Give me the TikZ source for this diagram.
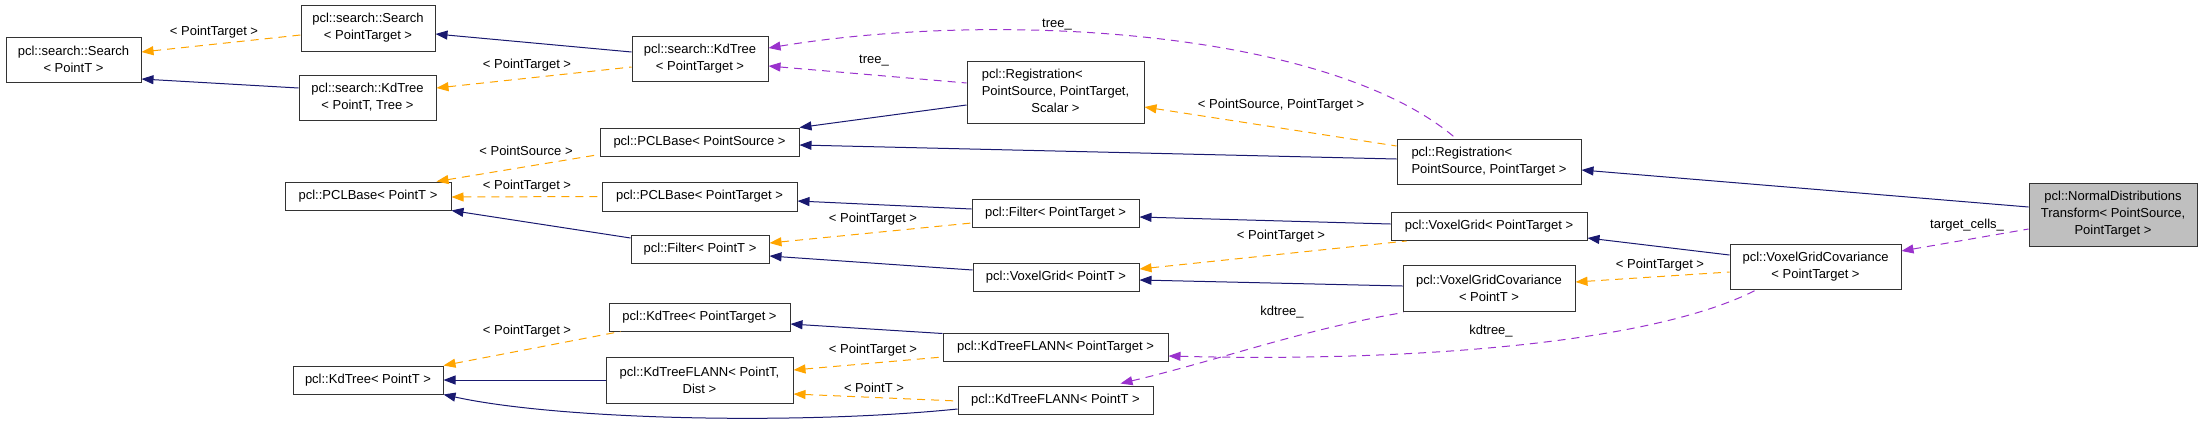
\documentclass[tikz,border=0pt]{standalone}
\usepackage{fontspec}
\setmainfont{Liberation Sans}
\usetikzlibrary{arrows.meta,calc}
\definecolor{inh}{RGB}{25,25,112}
\definecolor{tmpc}{RGB}{255,165,0}
\definecolor{usgc}{RGB}{154,50,205}
\definecolor{ndtfill}{RGB}{191,191,191}
\begin{document}
\begin{tikzpicture}[x=1pt,y=-1pt,
  box/.style={draw=black!80, line width=1pt, fill=white, inner sep=0pt, font=\fontsize{13}{17}\selectfont},
  lbl/.style={inner sep=0pt, font=\fontsize{13}{17}\selectfont},
  inhe/.style={draw=inh, line width=1pt, arrows={Triangle[length=12pt,width=9pt]-}},
  tmp/.style={draw=tmpc, line width=1pt, dash pattern=on 8pt off 6pt, arrows={Triangle[length=12pt,width=9pt]-}},
  usg/.style={draw=usgc, line width=1pt, dash pattern=on 8pt off 6pt, arrows={Triangle[length=12pt,width=9pt]-}}
]
\useasboundingbox (0,0) rectangle (2203,424);
% nodes
\node[box,minimum width=135pt,minimum height=45pt,align=center] (ssT) at (73.5,59.5) {pcl::search::Search\\< PointT >};
\node[box,minimum width=134pt,minimum height=46pt,align=center] (ssPT) at (368,28) {pcl::search::Search\\< PointTarget >};
\node[box,minimum width=137pt,minimum height=45pt,align=center] (skT) at (367.5,97.5) {pcl::search::KdTree\\< PointT, Tree >};
\node[box,minimum width=136pt,minimum height=45pt,align=center] (skPT) at (700,58.5) {pcl::search::KdTree\\< PointTarget >};
\node[box,minimum width=177pt,minimum height=62pt] (regS) at (1055.5,92) {\begin{tabular}{@{}l@{}}pcl::Registration<\\PointSource, PointTarget,\\\multicolumn{1}{@{}c@{}}{Scalar >}\end{tabular}};
\node[box,minimum width=184pt,minimum height=45pt] (reg) at (1489,161.5) {\begin{tabular}{@{}l@{}}pcl::Registration<\\\multicolumn{1}{@{}c@{}}{PointSource, PointTarget >}\end{tabular}};
\node[box,fill=ndtfill,minimum width=168pt,minimum height=63pt,align=center] (ndt) at (2113,214.5) {pcl::NormalDistributions\\Transform< PointSource,\\PointTarget >};
\node[box,minimum width=199pt,minimum height=28pt] (pbS) at (699.5,142) {pcl::PCLBase< PointSource >};
\node[box,minimum width=166pt,minimum height=28pt] (pbT) at (368,196) {pcl::PCLBase< PointT >};
\node[box,minimum width=195pt,minimum height=29pt] (pbPT) at (699.5,196.5) {pcl::PCLBase< PointTarget >};
\node[box,minimum width=138pt,minimum height=28pt] (filT) at (700,249) {pcl::Filter< PointT >};
\node[box,minimum width=167pt,minimum height=28pt] (filPT) at (1055.5,213) {pcl::Filter< PointTarget >};
\node[box,minimum width=166pt,minimum height=28pt] (vgT) at (1056,277) {pcl::VoxelGrid< PointT >};
\node[box,minimum width=196pt,minimum height=28pt] (vgPT) at (1489,226.5) {pcl::VoxelGrid< PointTarget >};
\node[box,minimum width=172pt,minimum height=46pt,align=center] (vgcT) at (1489,288) {pcl::VoxelGridCovariance\\< PointT >};
\node[box,minimum width=171pt,minimum height=45pt,align=center] (vgcPT) at (1815.5,266.5) {pcl::VoxelGridCovariance\\< PointTarget >};
\node[box,minimum width=150pt,minimum height=28pt] (kdT) at (368,380) {pcl::KdTree< PointT >};
\node[box,minimum width=181pt,minimum height=28pt] (kdPT) at (699.5,317) {pcl::KdTree< PointTarget >};
\node[box,minimum width=225pt,minimum height=28pt] (kfPT) at (1055.5,347) {pcl::KdTreeFLANN< PointTarget >};
\node[box,minimum width=187pt,minimum height=46pt,align=center] (kfTD) at (699.5,380) {pcl::KdTreeFLANN< PointT,\\Dist >};
\node[box,minimum width=195pt,minimum height=28pt] (kfT) at (1055.5,400) {pcl::KdTreeFLANN< PointT >};
% edges
\draw[tmp] ($(ssT.east)+(0,-7.5)$) -- ($(ssPT.west)+(0,7)$);
\node[lbl] (l1) at (214,32) {< PointTarget >};
\draw[inhe] ($(ssT.east)+(0,19.5)$) -- ($(skT.west)+(0,-9.5)$);
\draw[inhe] ($(ssPT.east)+(0,6)$) -- ($(skPT.west)+(0,-6.5)$);
\draw[tmp] ($(skT.east)+(0,-9.5)$) -- ($(skPT.west)+(0,8.5)$);
\node[lbl] (l2) at (527,65) {< PointTarget >};
\draw[usg] ($(skPT.east)+(0,7.5)$) -- ($(regS.west)+(0,-9)$);
\node[lbl] (l3) at (874,61) {tree\_};
\draw[usg] ($(skPT.east)+(0,-10.5)$) .. controls (1000,10) and (1330,30) .. ($(reg.north)+(-33,0)$);
\node[lbl] (l4) at (1057,25) {tree\_};
\draw[tmp] ($(regS.east)+(0,15)$) -- ($(reg.west)+(0,-15.5)$);
\node[lbl] (l5) at (1281,105) {< PointSource, PointTarget >};
\draw[inhe] (pbS.north east) -- ($(regS.west)+(0,13)$);
\draw[inhe] ($(pbS.east)+(0,3)$) -- ($(reg.west)+(0,-2.5)$);
\draw[tmp] ($(pbT.north east)+(-15,0)$) -- ($(pbS.south west)+(0,-2)$);
\node[lbl] (l6) at (526,151) {< PointSource >};
\draw[tmp] ($(pbT.east)+(0,1)$) -- (pbPT.west);
\node[lbl] (l7) at (527,186) {< PointTarget >};
\draw[inhe] (pbT.south east) -- ($(filT.west)+(0,-11)$);
\draw[inhe] ($(pbPT.east)+(0,4.5)$) -- ($(filPT.west)+(0,-4)$);
\draw[tmp] ($(filT.east)+(0,-6)$) -- ($(filPT.west)+(0,10)$);
\node[lbl] (l8) at (873,219) {< PointTarget >};
\draw[inhe] ($(filPT.east)+(0,4)$) -- ($(vgPT.west)+(0,-2.5)$);
\draw[inhe] ($(filT.east)+(0,7)$) -- ($(vgT.west)+(0,-7)$);
\draw[tmp] ($(vgT.east)+(0,-8)$) -- ($(vgPT.south west)+(16,0)$);
\node[lbl] (l9) at (1281,236) {< PointTarget >};
\draw[inhe] ($(vgT.east)+(0,3)$) -- ($(vgcT.west)+(0,-2)$);
\draw[inhe] ($(vgPT.east)+(0,11.5)$) -- ($(vgcPT.west)+(0,-11.5)$);
\draw[tmp] ($(vgcT.east)+(0,-6)$) -- ($(vgcPT.west)+(0,5.5)$);
\node[lbl] (l10) at (1660,265) {< PointTarget >};
\draw[inhe] ($(reg.east)+(0,8.5)$) -- ($(ndt.west)+(0,-7.5)$);
\draw[usg] ($(vgcPT.east)+(0,-15.5)$) -- ($(ndt.west)+(0,14.5)$);
\node[lbl] (l11) at (1967,225) {target\_cells\_};
\draw[tmp] (kdT.north east) -- ($(kdPT.south west)+(12,0)$);
\node[lbl] (l12) at (527,331) {< PointTarget >};
\draw[inhe] (kdT.east) -- (kfTD.west);
\draw[inhe] (kdT.south east) .. controls (560,420) and (800,425) .. ($(kfT.west)+(0,9)$);
\draw[inhe] ($(kdPT.east)+(0,7)$) -- ($(kfPT.north west)+(0,1)$);
\draw[tmp] ($(kfTD.east)+(0,-10)$) -- ($(kfPT.west)+(0,10)$);
\node[lbl] (l13) at (873,350) {< PointTarget >};
\draw[tmp] ($(kfTD.east)+(0,14)$) -- ($(kfT.west)+(0,1)$);
\node[lbl] (l14) at (874,388) {< PointT >};
\draw[usg] ($(kfPT.east)+(0,9)$) .. controls (1400,362) and (1650,345) .. ($(vgcPT.south)+(-58.5,0)$);
\node[lbl] (l15) at (1491,331) {kdtree\_};
\draw[usg] ($(kfT.north)+(65,-2)$) .. controls (1220,360) and (1300,330) .. ($(vgcT.south west)+(1,1)$);
\node[lbl] (l16) at (1282,312) {kdtree\_};
\end{tikzpicture}
\end{document}
